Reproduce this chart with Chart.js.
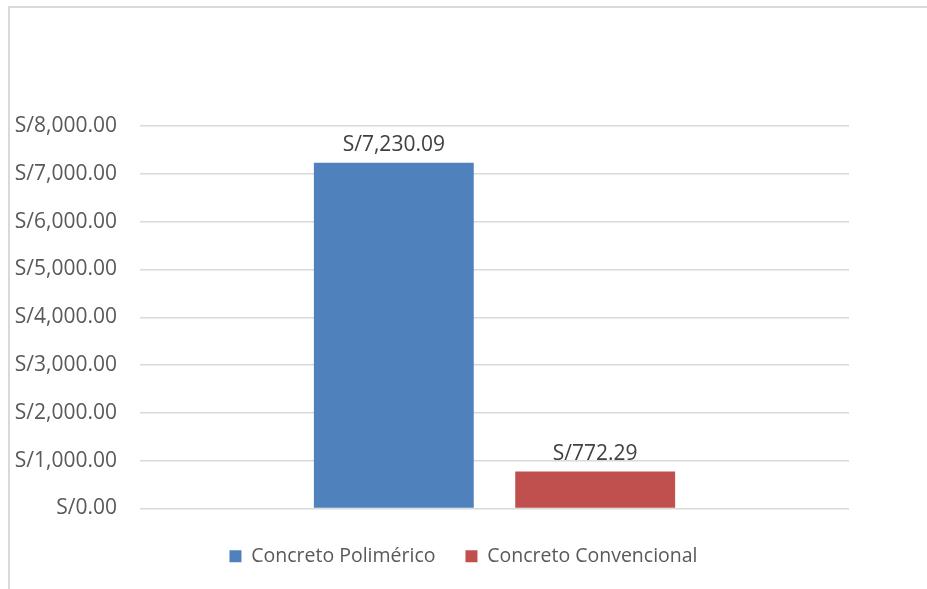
<!DOCTYPE html>
<html>
<head>
<meta charset="utf-8">
<script src="https://cdn.jsdelivr.net/npm/chart.js@4"></script>
<style>
  html, body { margin: 0; padding: 0; background: #fff; }
  #wrap { position: relative; width: 927px; height: 589px; overflow: hidden; }
  #frame {
    position: absolute; left: 8px; top: 6px; width: 960px; height: 640px;
    border-left: 2px solid #d9d9d9; border-top: 2px solid #d9d9d9;
  }
  #myChart { position: absolute; left: 0; top: 0; }
</style>
</head>
<body>
<div id="wrap">
  <div id="frame"></div>
  <canvas id="myChart" width="927" height="589"></canvas>
</div>
<script>
'use strict';
var categories = [''];
var seriesNames = ['Concreto Polimérico', 'Concreto Convencional'];
var polimerico = [7230.09];
var convencional = [772.29];
var seriesColors = ['#4f81bd', '#c0504d'];

var fontFamily = "'Open Sans', 'Liberation Sans', sans-serif";

/**
 * Formats a number as soles, e.g. S/7,230.09
 */
var formatSoles = function(value) {
    return 'S/' + Number(value).toLocaleString('en-US', {
        minimumFractionDigits: 2,
        maximumFractionDigits: 2
    });
};

// writes the value above every bar
var valueLabels = {
    id: 'valueLabels',
    afterDatasetsDraw: function(chart) {
        var ctx = chart.ctx;
        ctx.save();
        ctx.font = '21px ' + fontFamily;
        ctx.fillStyle = '#404040';
        ctx.textAlign = 'center';
        ctx.textBaseline = 'alphabetic';
        chart.data.datasets.forEach(function(ds, i) {
            chart.getDatasetMeta(i).data.forEach(function(bar, j) {
                ctx.fillText(formatSoles(ds.data[j]), bar.x, bar.y - 12);
            });
        });
        ctx.restore();
    }
};

var ctx = document.getElementById('myChart');
var myChart = new Chart(ctx, {
    type: 'bar',
    data: {
        labels: categories,
        datasets: [{
            label: seriesNames[0],
            data: polimerico,
            backgroundColor: seriesColors[0]
        }, {
            label: seriesNames[1],
            data: convencional,
            backgroundColor: seriesColors[1]
        }]
    },
    options: {
        responsive: false,
        animation: false,
        categoryPercentage: 0.568,
        barPercentage: 0.794,
        layout: {
            padding: { top: 126, right: 0, bottom: 13, left: 0 }
        },
        plugins: {
            legend: {
                position: 'bottom',
                labels: {
                    boxWidth: 12,
                    boxHeight: 12,
                    padding: 30,
                    color: '#595959',
                    font: { family: fontFamily, size: 19.5 }
                }
            },
            tooltip: { enabled: false }
        },
        scales: {
            x: {
                ticks: { display: false },
                grid: { display: false },
                border: { display: false }
            },
            y: {
                min: 0,
                max: 8000,
                ticks: {
                    stepSize: 1000,
                    padding: 23,
                    color: '#595959',
                    font: { family: fontFamily, size: 21 },
                    callback: function(value) { return formatSoles(value); }
                },
                grid: { color: '#d9d9d9', lineWidth: 1.5, drawTicks: false },
                border: { display: false },
                afterFit: function(scale) { scale.width = 140; }
            },
            // empty axis that keeps the right margin, so the legend stays centred on the page
            yRight: {
                type: 'linear',
                position: 'right',
                ticks: { display: false },
                grid: { display: false },
                border: { display: false },
                afterFit: function(scale) { scale.width = 78; }
            }
        }
    },
    plugins: [valueLabels]
});
</script>
</body>
</html>
